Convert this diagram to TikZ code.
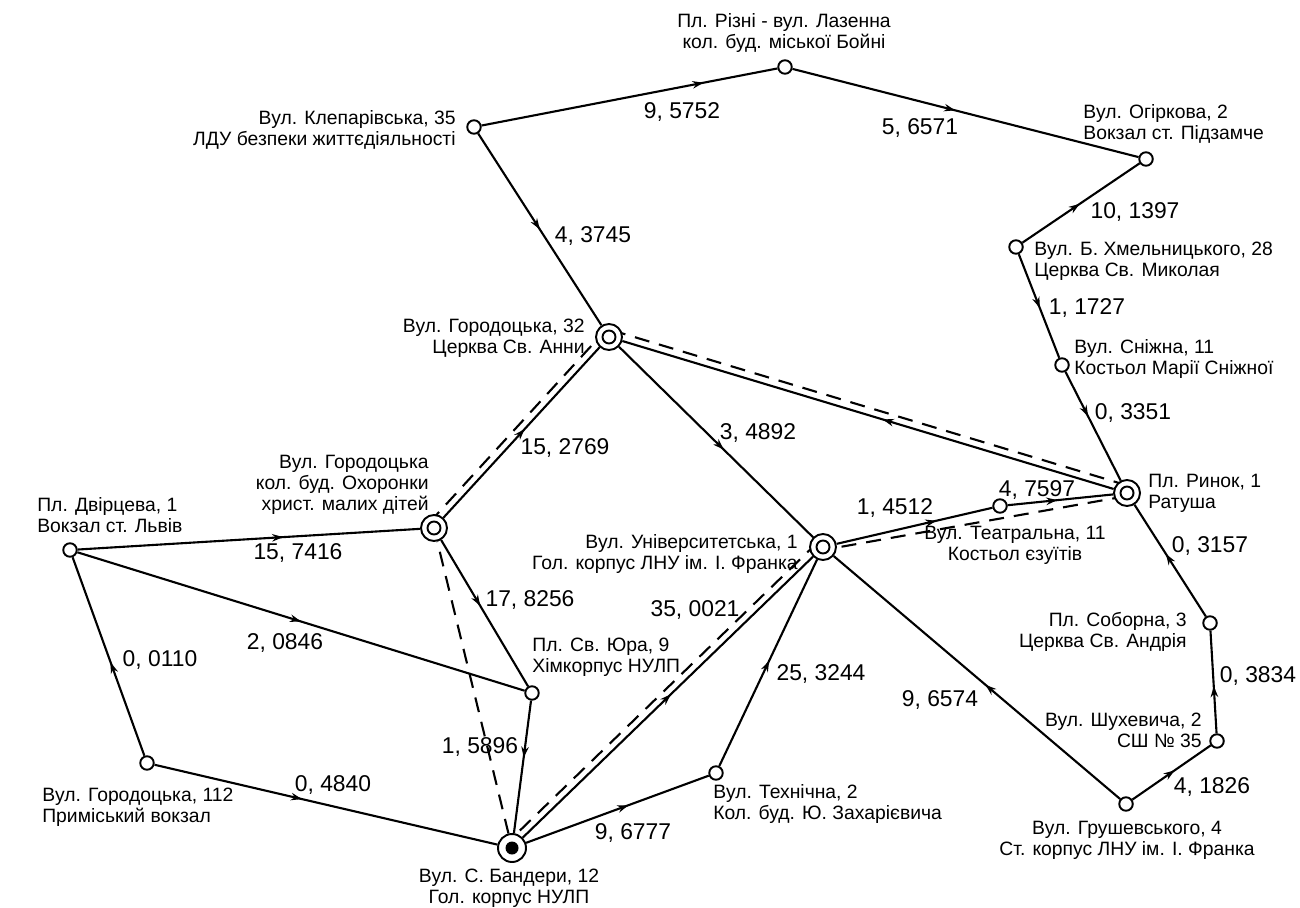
\documentclass[tikz,border=0pt]{standalone}
\usepackage{fontspec}
\setmainfont{Liberation Sans}
\usetikzlibrary{decorations.markings,arrows.meta,backgrounds}
\begin{document}
\begin{tikzpicture}[x=0.02cm,y=-0.02cm,
  stop/.style={circle,draw,fill=white,line width=1.1pt,minimum size=0.27cm,inner sep=0},
  hub/.style={circle,draw,fill=white,line width=1.1pt,minimum size=0.52cm,inner sep=0,
    path picture={\draw[black,line width=1.1pt] (path picture bounding box.center) circle (0.13cm);}},
  base/.style={circle,draw,fill=white,line width=1.1pt,minimum size=0.56cm,inner sep=0,
    path picture={\fill[black] (path picture bounding box.center) circle (0.13cm);}},
  lbl/.style={font=\fontsize{11}{12}\selectfont,inner sep=0},
  num/.style={font=\fontsize{13}{15}\selectfont,inner sep=0},
  road/.style={line width=1.2pt,postaction={decorate},
    decoration={markings,mark=at position #1 with {\arrow{Stealth[length=2.2mm,width=1.5mm]}}}},
  road/.default=0.5,
  way/.style={line width=1.2pt,dash pattern=on 0.3cm off 0.2cm}
]
\useasboundingbox (0,0) rectangle (1300,908);

% stops
\node[stop] (klep)  at (474,127) {};
\node[stop] (rizni) at (785,67) {};
\node[stop] (ohirk) at (1146,159) {};
\node[stop] (khmel) at (1016,247) {};
\node[stop] (snizh) at (1062,365) {};
\node[hub]  (rynok) at (1127,493) {};
\node[stop] (sobor) at (1210,623) {};
\node[stop] (shukh) at (1217,741) {};
\node[stop] (hrush) at (1126,804) {};
\node[hub]  (hor32) at (609,337) {};
\node[hub]  (okhor) at (434,528) {};
\node[stop] (dvirc) at (70,550) {};
\node[stop] (yura)  at (532,693) {};
\node[hub]  (univ)  at (823,547) {};
\node[stop] (teatr) at (1000,506) {};
\node[stop] (tekhn) at (716,773) {};
\node[base] (band)  at (512,848) {};
\node[stop] (hor112) at (147,763) {};

% stop labels
\node[lbl,anchor=east,align=right] (lklep) at (456,130) {Вул. Клепарівська, 35\\ЛДУ безпеки життєдіяльності};
\node[lbl,align=center] (lrizni) at (784,33) {Пл. Різні - вул. Лазенна\\кол. буд. міської Бойні};
\node[lbl,anchor=west,align=left] (lohirk) at (1083,124) {Вул. Огіркова, 2\\Вокзал ст. Підзамче};
\node[lbl,anchor=west,align=left] (lkhmel) at (1034,261) {Вул. Б. Хмельницького, 28\\Церква Св. Миколая};
\node[lbl,anchor=west,align=left] (lsnizh) at (1074,359) {Вул. Сніжна, 11\\Костьол Марії Сніжної};
\node[lbl,anchor=west,align=left] (lrynok) at (1148,493) {Пл. Ринок, 1\\Ратуша};
\node[lbl,anchor=east,align=right] (lsobor) at (1187,632) {Пл. Соборна, 3\\Церква Св. Андрія};
\node[lbl,anchor=east,align=right] (lshukh) at (1202,730) {Вул. Шухевича, 2\\СШ № 35};
\node[lbl,align=center] (lhrush) at (1127,840) {Вул. Грушевського, 4\\Ст. корпус ЛНУ ім. І. Франка};
\node[lbl,anchor=east,align=right] (lhor32) at (585,338) {Вул. Городоцька, 32\\Церква Св. Анни};
\node[lbl,anchor=east,align=right] (lokhor) at (429,485) {Вул. Городоцька\\кол. буд. Охоронки\\христ. малих дітей};
\node[lbl,anchor=west,align=left] (ldvirc) at (37,515) {Пл. Двірцева, 1\\Вокзал ст. Львів};
\node[lbl,anchor=east,align=right] (luniv) at (798,554) {Вул. Університетська, 1\\Гол. корпус ЛНУ ім. І. Франка};
\node[lbl,align=center] (lteatr) at (1015,545) {Вул. Театральна, 11\\Костьол єзуїтів};
\node[lbl,anchor=west,align=left] (lyura) at (532,657) {Пл. Св. Юра, 9\\Хімкорпус НУЛП};
\node[lbl,anchor=west,align=left] (ltekhn) at (713,804) {Вул. Технічна, 2\\Кол. буд. Ю. Захарієвича};
\node[lbl,align=center] (lband) at (509,888) {Вул. С. Бандери, 12\\Гол. корпус НУЛП};
\node[lbl,anchor=west,align=left] (lhor112) at (42,807) {Вул. Городоцька, 112\\Приміський вокзал};

% edge numbers
\node[num] (n1) at (682,112) {9, 5752};
\node[num] (n2) at (920,128) {5, 6571};
\node[num] (n3) at (1135,212) {10, 1397};
\node[num] (n4) at (1087,308) {1, 1727};
\node[num] (n5) at (1133,413) {0, 3351};
\node[num] (n6) at (593,236) {4, 3745};
\node[num] (n7) at (565,448) {15, 2769};
\node[num] (n8) at (758,433) {3, 4892};
\node[num] (n9) at (298,553) {15, 7416};
\node[num] (n10) at (285,643) {2, 0846};
\node[num] (n11) at (160,660) {0, 0110};
\node[num] (n12) at (530,600) {17, 8256};
\node[num] (n13) at (480,747) {1, 5896};
\node[num] (n14) at (695,610) {35, 0021};
\node[num] (n15) at (821,674) {25, 3244};
\node[num] (n16) at (940,700) {9, 6574};
\node[num] (n17) at (1212,787) {4, 1826};
\node[num] (n18) at (1258,676) {0, 3834};
\node[num] (n19) at (1210,546) {0, 3157};
\node[num] (n20) at (895,508) {1, 4512};
\node[num] (n21) at (1037,490) {4, 7597};
\node[num] (n22) at (333,785) {0, 4840};
\node[num] (n23) at (633,833) {9, 6777};

\begin{scope}[on background layer]
\draw[road=0.75] (klep) -- (rizni);
\draw[road=0.47] (rizni) -- (ohirk);
\draw[road=0.49] (khmel) -- (ohirk);
\draw[road=0.52] (khmel) -- (snizh);
\draw[road=0.41] (snizh) -- (rynok);
\draw[road=0.5] (klep) -- (hor32);
\draw[road=0.47] (rynok) -- (hor32);
\draw[road=0.52] (okhor) -- (hor32);
\draw[road=0.54] (hor32) -- (univ);
\draw[road=0.6] (dvirc) -- (okhor);
\draw[road=0.45] (okhor) -- (yura);
\draw[road=0.5] (dvirc) -- (yura);
\draw[road=0.47] (hor112) -- (dvirc);
\draw[road=0.43] (hor112) -- (band);
\draw[road=0.43] (yura) -- (band);
\draw[road=0.51] (band) -- (univ);
\draw[road=0.56] (band) -- (tekhn);
\draw[road=0.51] (tekhn) -- (univ);
\draw[road=0.64] (univ) -- (teatr);
\draw[road=0.47] (teatr) -- (rynok);
\draw[road=0.47] (hrush) -- (univ);
\draw[road=0.54] (hrush) -- (shukh);
\draw[road=0.46] (shukh) -- (sobor);
\draw[road=0.56] (sobor) -- (rynok);
% optimal route (dashed)
\draw[way] (band) -- (okhor);
\draw[way] ([shift={(-5,-5)}]okhor.center) -- ([shift={(-5,-5)}]hor32.center);
\draw[way] ([shift={(2,-7)}]hor32.center) -- ([shift={(2,-7)}]rynok.center);
\draw[way] ([shift={(0,3)}]rynok.center) -- ([shift={(0,3)}]univ.center);
\draw[way] ([shift={(-5,-5)}]univ.center) -- ([shift={(-5,-5)}]band.center);
\end{scope}
\end{tikzpicture}
\end{document}
